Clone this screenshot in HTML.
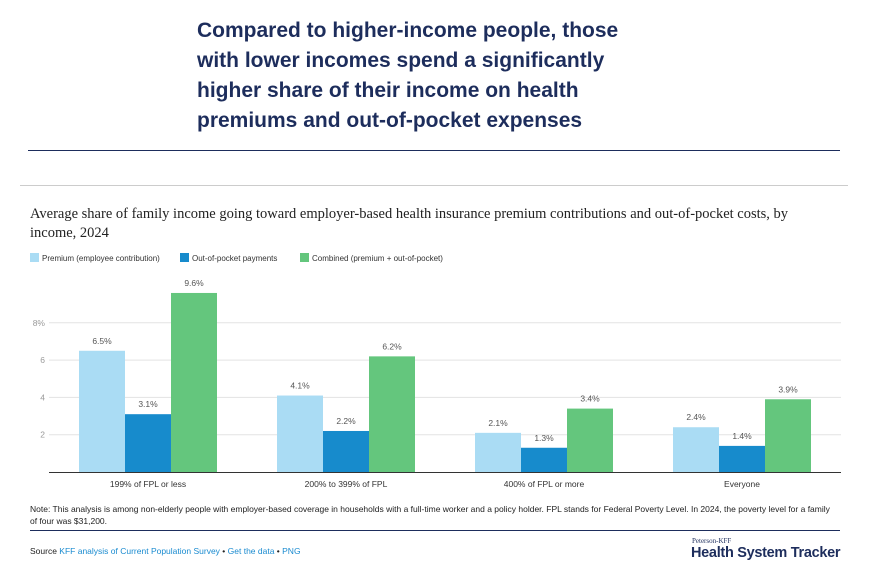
<!DOCTYPE html>
<html><head><meta charset="utf-8"><style>
body{margin:0;width:874px;height:582px;background:#fff;font-family:"Liberation Sans",sans-serif;position:relative;overflow:hidden}
.a{position:absolute}
</style></head><body>
<div class="a" style="left:197px;top:16px;width:560px;font-size:21px;font-weight:bold;color:#1d2d5c;line-height:30px;white-space:nowrap">Compared to higher-income people, those<br>with lower incomes spend a significantly<br>higher share of their income on health<br>premiums and out-of-pocket expenses</div>
<div class="a" style="left:28px;top:150px;width:812px;height:1px;background:#1d2d5c"></div>
<div class="a" style="left:20px;top:185px;width:828px;height:1px;background:#ccc"></div>
<div class="a" style="left:30px;top:205px;width:800px;font-family:'Liberation Serif',serif;font-size:14.5px;color:#222;line-height:19px">Average share of family income going toward employer-based health insurance premium contributions and out-of-pocket costs, by income, 2024</div>
<svg class="a" style="left:0;top:0" width="874" height="582">
<g id="legend" font-size="8" fill="#333"></g>
<g id="grid"></g><g id="bars"></g><g id="labels" font-size="8.5" fill="#555" text-anchor="middle"></g>
</svg>
<div class="a" style="left:30px;top:503px;width:830px;font-size:8.5px;color:#222;line-height:12px;white-space:nowrap">Note: This analysis is among non-elderly people with employer-based coverage in households with a full-time worker and a policy holder. FPL stands for Federal Poverty Level. In 2024, the poverty level for a family<br>of four was $31,200.</div>
<div class="a" style="left:30px;top:530px;width:810px;height:1px;background:#1d2d5c"></div>
<div class="a" style="left:30px;top:546px;font-size:8.5px;color:#222">Source <span style="color:#1a8bd0">KFF analysis of Current Population Survey</span> • <span style="color:#1a8bd0">Get the data</span> • <span style="color:#1a8bd0">PNG</span></div>
<div class="a" style="left:692px;top:537px;font-family:'Liberation Serif',serif;font-size:7px;color:#1d2d5c">Peterson-KFF</div>
<div class="a" style="left:691px;top:545px;font-size:14.5px;font-weight:bold;color:#1d2d5c;letter-spacing:-0.3px">Health System Tracker</div>
<script>
const categories=["199% of FPL or less","200% to 399% of FPL","400% of FPL or more","Everyone"];
const premium=[6.5,4.1,2.1,2.4];
const oop=[3.1,2.2,1.3,1.4];
const combined=[9.6,6.2,3.4,3.9];
const seriesNames=["Premium (employee contribution)","Out-of-pocket payments","Combined (premium + out-of-pocket)"];
const yTicks=[2,4,6,8];
const colors=["#aadcf4","#178bcc","#64c67d"];
const NS="http://www.w3.org/2000/svg";
const x0=49,x1=841,y0=472,pxPer=18.65;
const band=(x1-x0)/categories.length, bw=46;
const y=v=>y0-v*pxPer;
function mk(t,a,p){const e=document.createElementNS(NS,t);for(const k in a)e.setAttribute(k,a[k]);p.appendChild(e);return e;}
const grid=document.getElementById('grid'),bars=document.getElementById('bars'),labels=document.getElementById('labels'),legend=document.getElementById('legend');
yTicks.forEach((t,i)=>{
 const l=mk('line',{x1:x0,x2:x1,y1:y(t),y2:y(t),stroke:'#e3e3e3'},grid);
 
 
 const tx=mk('text',{x:45,y:y(t)+3,'text-anchor':'end','font-size':'8.5',fill:'#999'},grid);
 tx.textContent=t+(i===yTicks.length-1?'%':'');
 
 
});
const ax=mk('line',{x1:x0,x2:x1,y1:y0+0.5,y2:y0+0.5,stroke:'#333'},grid);


const series=[premium,oop,combined];
categories.forEach((c,i)=>{
 const cx=x0+band*(i+0.5);
 series.forEach((s,j)=>{
  const bx=cx-1.5*bw+j*bw;
  const r=mk('rect',{x:bx,y:y(s[i]),width:bw,height:s[i]*pxPer,fill:colors[j]},bars);
  
  
  const t=mk('text',{x:bx+bw/2,y:y(s[i])-7},labels);
  t.textContent=s[i].toFixed(1)+'%';
  
  
 });
 const cl=mk('text',{x:cx,y:487,fill:'#333'},labels);
 cl.textContent=c;
 
 
});
const lx=[30,180,300];
seriesNames.forEach((n,j)=>{
 const r=mk('rect',{x:lx[j],y:253,width:9,height:9,fill:colors[j]},legend);
 
 
 const t=mk('text',{x:lx[j]+12,y:261},legend);
 t.textContent=n;
 
 
});
</script>
</body></html>
